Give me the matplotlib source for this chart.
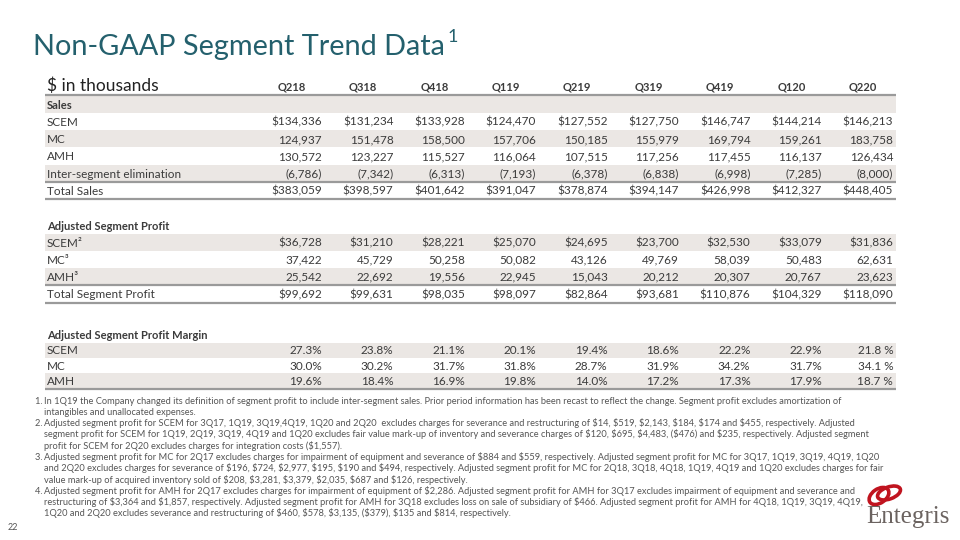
import matplotlib
matplotlib.use("Agg")
import matplotlib.pyplot as plt
from matplotlib.patches import Rectangle, Ellipse

plt.rcParams['text.parse_math'] = False
plt.rcParams['font.family'] = ['Lato', 'DejaVu Sans']

quarters = ['Q218', 'Q318', 'Q418', 'Q119', 'Q219', 'Q319', 'Q419', 'Q120', 'Q220']

sales_scem = [134336, 131234, 133928, 124470, 127552, 127750, 146747, 144214, 146213]
sales_mc = [124937, 151478, 158500, 157706, 150185, 155979, 169794, 159261, 183758]
sales_amh = [130572, 123227, 115527, 116064, 107515, 117256, 117455, 116137, 126434]
sales_elim = [-6786, -7342, -6313, -7193, -6378, -6838, -6998, -7285, -8000]
sales_total = [383059, 398597, 401642, 391047, 378874, 394147, 426998, 412327, 448405]

profit_scem = [36728, 31210, 28221, 25070, 24695, 23700, 32530, 33079, 31836]
profit_mc = [37422, 45729, 50258, 50082, 43126, 49769, 58039, 50483, 62631]
profit_amh = [25542, 22692, 19556, 22945, 15043, 20212, 20307, 20767, 23623]
profit_total = [99692, 99631, 98035, 98097, 82864, 93681, 110876, 104329, 118090]

margin_scem = [27.3, 23.8, 21.1, 20.1, 19.4, 18.6, 22.2, 22.9, 21.8]
margin_mc = [30.0, 30.2, 31.7, 31.8, 28.7, 31.9, 34.2, 31.7, 34.1]
margin_amh = [19.6, 18.4, 16.9, 19.8, 14.0, 17.2, 17.3, 17.9, 18.7]

footnotes = [
    ["1. ", "In 1Q19 the Company changed its definition of segment profit to include inter-segment sales. Prior period information has been recast to reflect the change. Segment profit excludes amortization of",
     "intangibles and unallocated expenses."],
    ["2. ", "Adjusted segment profit for SCEM for 3Q17, 1Q19, 3Q19,4Q19, 1Q20 and 2Q20  excludes charges for severance and restructuring of $14, $519, $2,143, $184, $174 and $455, respectively. Adjusted",
     "segment profit for SCEM for 1Q19, 2Q19, 3Q19, 4Q19 and 1Q20 excludes fair value mark-up of inventory and severance charges of $120, $695, $4,483, ($476) and $235, respectively. Adjusted segment",
     "profit for SCEM for 2Q20 excludes charges for integration costs ($1,557)."],
    ["3. ", "Adjusted segment profit for MC for 2Q17 excludes charges for impairment of equipment and severance of $884 and $559, respectively. Adjusted segment profit for MC for 3Q17, 1Q19, 3Q19, 4Q19, 1Q20",
     "and 2Q20 excludes charges for severance of $196, $724, $2,977, $195, $190 and $494, respectively. Adjusted segment profit for MC for 2Q18, 3Q18, 4Q18, 1Q19, 4Q19 and 1Q20 excludes charges for fair",
     "value mark-up of acquired inventory sold of $208, $3,281, $3,379, $2,035, $687 and $126, respectively."],
    ["4. ", "Adjusted segment profit for AMH for 2Q17 excludes charges for impairment of equipment of $2,286. Adjusted segment profit for AMH for 3Q17 excludes impairment of equipment and severance and",
     "restructuring of $3,364 and $1,857, respectively. Adjusted segment profit for AMH for 3Q18 excludes loss on sale of subsidiary of $466. Adjusted segment profit for AMH for 4Q18, 1Q19, 3Q19, 4Q19,",
     "1Q20 and 2Q20 excludes severance and restructuring of $460, $578, $3,135, ($379), $135 and $814, respectively."],
]


def money(v, dollar):
    s = f"{abs(v):,}"
    if dollar:
        s = "$" + s
    if v < 0:
        s = "(" + s + ")"
    return s


def pct(v, last):
    return f"{v:.1f} %" if last else f"{v:.1f}%"


TXT = '#3b3b3b'
SHADE = '#ebe7e4'
RULE = '#9a9a9a'
TEAL = '#24606d'

fig = plt.figure(figsize=(9.6, 5.4), dpi=100)
ax = fig.add_axes([0, 0, 1, 1])
ax.set_xlim(0, 960)
ax.set_ylim(540, 0)
ax.axis('off')

# title
t = ax.text(33, 55, "Non-GAAP Segment Trend Data", fontsize=20.8, color=TEAL, va='baseline')
fig.canvas.draw()
bb = t.get_window_extent()
ax.text(bb.x1 + 3, 42, "1", fontsize=13, color=TEAL, va='baseline')

x_left, x_right = 45, 896
col_right = [322 + 71.4 * i for i in range(len(quarters))]

ax.text(47, 91, "$ in thousands", fontsize=12.5, color='#222222', va='baseline')
for q, xr in zip(quarters, col_right):
    ax.text(xr - 44.5, 91, q, fontsize=8, fontweight='bold', color=TXT, va='baseline')
ax.hlines(95, x_left, x_right, color=RULE, lw=1.6)

# (label, values, kind, y, row top, row bottom, shaded)
rows = [
    ("Sales", None, 'head', 104.5, 96, 113, True),
    ("SCEM", sales_scem, '$', 121.7, 113, 130, False),
    ("MC", sales_mc, 'n', 139, 130, 147, True),
    ("AMH", sales_amh, 'n', 156, 147, 164.5, False),
    ("Inter-segment elimination", sales_elim, 'n', 173.3, 164.5, 182, True),
    ("Total Sales", sales_total, '$', 190.7, 182, 199, False),
    ("Adjusted Segment Profit", None, 'head', 225.7, 0, 0, False),
    ("SCEM\u00b2", profit_scem, '$', 242.7, 234, 251, True),
    ("MC\u00b3", profit_mc, 'n', 259.7, 251, 268, False),
    ("AMH\u00b3", profit_amh, 'n', 276.7, 268, 285, True),
    ("Total Segment Profit", profit_total, '$', 294, 285, 302.7, False),
    ("Adjusted Segment Profit Margin", None, 'head', 334.5, 0, 0, False),
    ("SCEM", margin_scem, '%', 350.3, 342.5, 358, True),
    ("MC", margin_mc, '%', 365.8, 358, 373, False),
    ("AMH", margin_amh, '%', 381, 373, 388.5, True),
]

for label, vals, kind, y, top, bot, shaded in rows:
    if shaded:
        ax.add_patch(Rectangle((x_left, top), x_right - x_left, bot - top,
                               facecolor=SHADE, edgecolor='none', zorder=0))
    yb = y + 4.2
    if kind == 'head':
        ax.text(47, yb, label, fontsize=8, fontweight='bold', color=TXT, va='baseline')
        continue
    ax.text(47, yb, label, fontsize=8.5, color=TXT, va='baseline')
    for i, (v, xr) in enumerate(zip(vals, col_right)):
        if kind == '%':
            s = pct(v, i == len(vals) - 1)
        else:
            s = money(v, kind == '$')
        ax.text(xr, yb, s, fontsize=8.5, color=TXT, va='baseline', ha='right')

for yl in [182, 199, 285, 302.7, 388.5]:
    ax.hlines(yl, x_left, x_right, color=RULE, lw=1.6)

# footnotes
fy = 400.7 + 3
for note in footnotes:
    ax.text(35, fy, note[0], fontsize=6.7, color='#555555', va='baseline')
    for line in note[1:]:
        ax.text(43.5, fy, line, fontsize=6.7, color='#555555', va='baseline')
        fy += 11.26

ax.text(8, 530.5, "22", fontsize=6.5, color='#555555', va='baseline')

# logo
ax.add_patch(Ellipse((879, 496), 22, 14, angle=-35, fill=False, edgecolor='#c0141f', lw=2.6))
ax.add_patch(Ellipse((889, 493), 24, 12, angle=-20, fill=False, edgecolor='#c0141f', lw=2.6))
ax.text(866, 523, "Entegris", fontsize=18, family='Liberation Serif', color='#6b6360', va='baseline')

fig.savefig("out.png", dpi=100)
